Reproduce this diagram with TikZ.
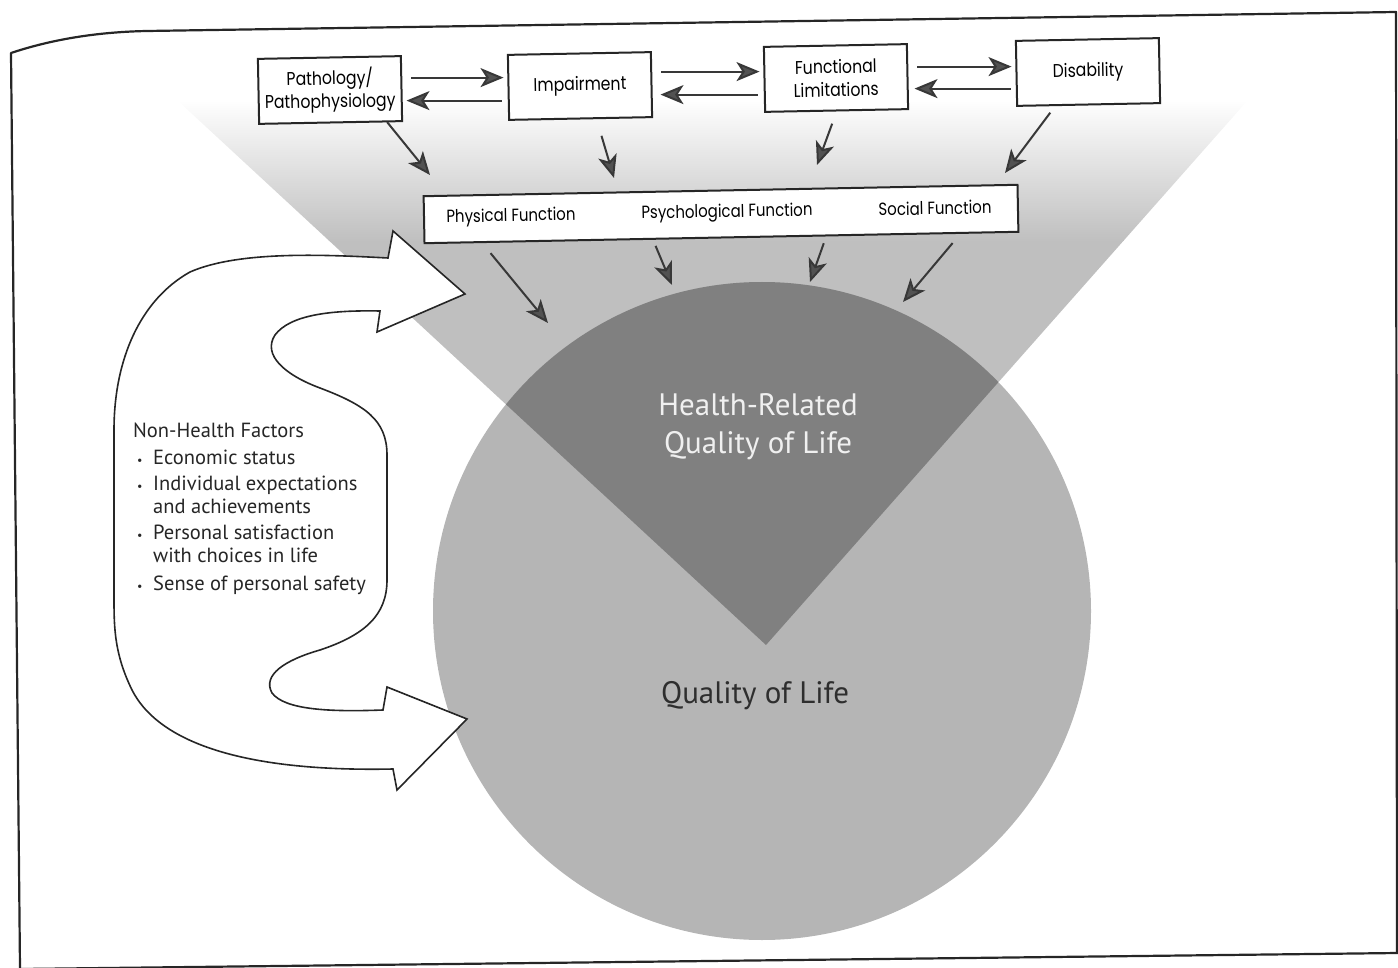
\documentclass[tikz,border=0pt]{standalone}
\usepackage{fontspec}
\setmainfont{PT Sans}
\newfontfamily\boxfont[FakeStretch=0.85]{Poppins}
\usetikzlibrary{arrows.meta}

\definecolor{conegray}{gray}{0.75}
\definecolor{lifegray}{gray}{0.71}
\definecolor{hrqolgray}{gray}{0.50}
\definecolor{inkgray}{gray}{0.22}
\definecolor{headgray}{gray}{0.32}

\newcommand{\bul}{\makebox[20pt][l]{\hspace{4pt}{\fontsize{12}{12}\selectfont\textbullet}}}

\tikzset{
  box/.style={draw=black!85, line width=2pt, fill=white, minimum width=143pt,
    minimum height=65pt, inner sep=0pt, align=center, rotate=1.1,
    font=\boxfont\fontsize{18.5}{23}\selectfont},
  funcbox/.style={draw=black!85, line width=2pt, fill=white, minimum width=594pt,
    minimum height=47pt, inner sep=0pt, rotate=1.1},
  funclabel/.style={inner sep=0pt, rotate=1.1, font=\boxfont\fontsize{17.6}{20}\selectfont},
  flow/.style={draw=inkgray, line width=2pt,
    -{Stealth[length=23pt,width=19pt,inset=6pt,fill=headgray]}},
  bigarrow/.style={draw=black!85, line width=1.6pt, fill=white, line join=miter},
  factors/.style={anchor=north west, inner sep=0pt, align=left, text=black!85,
    font=\fontsize{20.5}{23}\selectfont},
  biglabel/.style={inner sep=0pt, align=center, font=\fontsize{31}{38}\selectfont},
  frame/.style={draw=black!85, line width=2.2pt, line join=round},
}

\begin{document}
\begin{tikzpicture}[x=1pt, y=-1pt]
\useasboundingbox (0,0) rectangle (1398,968);

% funnel, fading out at the top
\begin{scope}
  \clip (177,100) -- (1248,100) -- (766,645) -- cycle;
  \fill[conegray] (150,240) rectangle (1300,700);
  \shade[top color=white, bottom color=conegray] (150,100) rectangle (1300,241);
\end{scope}

% quality of life circle, overlap is darker
\fill[lifegray] (762,611) circle (329);
\begin{scope}
  \clip (762,611) circle (329);
  \fill[hrqolgray] (177,100) -- (1248,100) -- (766,645) -- cycle;
\end{scope}

\node[biglabel, text=black!6] (hrqol) at (758,427) {Health-Related\\Quality of Life};
\node[biglabel, text=black!82] (qol) at (755,696) {Quality of Life};

% big hollow double arrow on the left
\draw[bigarrow] (393,231) -- (465,294) -- (377,332) -- (380,311)
  .. controls (330,310) and (290,315) .. (275,335)
  .. controls (262,355) and (285,375) .. (320,388)
  .. controls (365,405) and (387,420) .. (387,455)
  -- (387,580)
  .. controls (387,615) and (365,635) .. (320,650)
  .. controls (285,660) and (262,675) .. (272,693)
  .. controls (285,710) and (330,712) .. (383,710)
  -- (387,687) -- (467,719) -- (397,790) -- (393,769)
  .. controls (250,772) and (160,745) .. (132,690)
  .. controls (115,655) and (114,630) .. (114,600)
  -- (114,430)
  .. controls (114,360) and (140,300) .. (190,272)
  .. controls (240,250) and (330,255) .. (388,258) -- cycle;

\node[factors] (nonhealth) at (133,423) {Non-Health Factors\\[4pt]
  \bul Economic status\\[3pt]
  \bul Individual expectations\\
  \hspace*{20pt}and achievements\\[3pt]
  \bul Personal satisfaction\\
  \hspace*{20pt}with choices in life\\[5pt]
  \bul Sense of personal safety};

% page frame
\draw[frame] (20,968) -- (11,53) .. controls (50,40) and (95,32) .. (147,31)
  -- (1396,12) -- (1397,953);
\draw[frame] (20,969) -- (1398,953);

% disablement chain
\node[box] (path) at (330,90) {Pathology/\\Pathophysiology};
\node[box] (imp) at (580,86) {Impairment};
\node[box] (funlim) at (836,78) {Functional\\Limitations};
\node[box] (disab) at (1088,72) {Disability};

\draw[flow, shorten <=9pt, shorten >=4pt] ([yshift=11pt]path.east) -- ([yshift=11pt]path.east -| imp.west);
\draw[flow, shorten <=6pt, shorten >=4pt] ([yshift=-12pt]path.east -| imp.west) -- ([yshift=-12pt]path.east);
\draw[flow, shorten <=9pt, shorten >=4pt] ([yshift=13pt]imp.east) -- ([yshift=13pt]imp.east -| funlim.west);
\draw[flow, shorten <=6pt, shorten >=8pt] ([yshift=-10pt]imp.east -| funlim.west) -- ([yshift=-10pt]imp.east);
\draw[flow, shorten <=9pt, shorten >=4pt] ([yshift=10pt]funlim.east) -- ([yshift=10pt]funlim.east -| disab.west);
\draw[flow, shorten <=5pt, shorten >=6pt] ([yshift=-12pt]funlim.east -| disab.west) -- ([yshift=-12pt]funlim.east);

% function row
\node[funcbox] (fbox) at (721,214) {};
\node[funclabel] (physf) at (511,217) {Physical Function};
\node[funclabel] (psychf) at (727,213) {Psychological Function};
\node[funclabel] (socf) at (935,208) {Social Function};

\coordinate (path-in) at (430,175);
\coordinate (imp-in) at (614,178);
\coordinate (funlim-in) at (817,165);
\coordinate (disab-in) at (1005,173);

\draw[flow] ([xshift=-16pt]path.south east) -- (path-in);
\draw[flow, shorten <=17pt] ([xshift=16pt]imp.south) -- (imp-in);
\draw[flow, shorten <=13pt] (funlim.south) -- (funlim-in);
\draw[flow, shorten <=9pt] ([xshift=-33pt]disab.south) -- (disab-in);

% row feeding into health-related quality of life
\coordinate (phys-out) at (548,323);
\coordinate (psych-out) at (672,285);
\coordinate (soc-out) at (810,282);
\coordinate (row-out) at (903,302);

\draw[flow, shorten <=19pt] ([xshift=-243pt]fbox.south) -- (phys-out);
\draw[flow, shorten <=8pt] ([xshift=-69pt]fbox.south) -- (psych-out);
\draw[flow, shorten <=5pt] ([xshift=104pt]fbox.south) -- (soc-out);
\draw[flow, shorten <=6pt] ([xshift=235pt]fbox.south) -- (row-out);
\end{tikzpicture}
\end{document}
